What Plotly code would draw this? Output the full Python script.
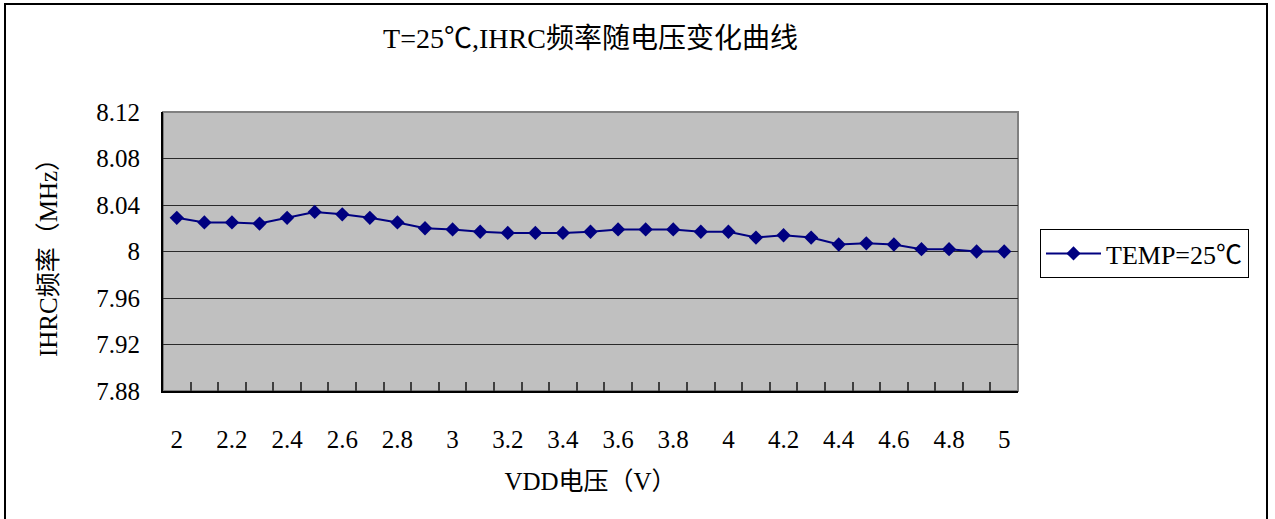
import plotly.graph_objects as go

# Data
vdd = [2.0, 2.1, 2.2, 2.3, 2.4, 2.5, 2.6, 2.7, 2.8, 2.9,
       3.0, 3.1, 3.2, 3.3, 3.4, 3.5, 3.6, 3.7, 3.8, 3.9,
       4.0, 4.1, 4.2, 4.3, 4.4, 4.5, 4.6, 4.7, 4.8, 4.9, 5.0]
freq = [8.029, 8.025, 8.025, 8.024, 8.029, 8.034, 8.032, 8.029, 8.025, 8.020,
        8.019, 8.017, 8.016, 8.016, 8.016, 8.017, 8.019, 8.019, 8.019, 8.017,
        8.017, 8.012, 8.014, 8.012, 8.006, 8.007, 8.006, 8.002, 8.002, 8.000, 8.000]
series_name = "TEMP=25℃"
title_text = "T=25℃,IHRC频率随电压变化曲线"
x_title = "VDD电压（V）"
y_title = "IHRC频率（MHz）"
x_label_vals = [2.0, 2.2, 2.4, 2.6, 2.8, 3.0, 3.2, 3.4, 3.6, 3.8, 4.0, 4.2, 4.4, 4.6, 4.8, 5.0]
x_label_text = ["2", "2.2", "2.4", "2.6", "2.8", "3", "3.2", "3.4", "3.6", "3.8", "4", "4.2", "4.4", "4.6", "4.8", "5"]
x_boundaries = [2.05, 2.15, 2.25, 2.35, 2.45, 2.55, 2.65, 2.75, 2.85, 2.95,
                3.05, 3.15, 3.25, 3.35, 3.45, 3.55, 3.65, 3.75, 3.85, 3.95,
                4.05, 4.15, 4.25, 4.35, 4.45, 4.55, 4.65, 4.75, 4.85, 4.95]
y_tick_vals = [7.88, 7.92, 7.96, 8.00, 8.04, 8.08, 8.12]
y_tick_text = ["7.88", "7.92", "7.96", "8", "8.04", "8.08", "8.12"]

FONT = "'Liberation Serif', 'Noto Sans CJK SC', serif"
NAVY = "#000080"

fig = go.Figure()
fig.add_trace(go.Scatter(
    x=vdd, y=freq, name=series_name, mode="lines+markers",
    line=dict(color=NAVY, width=2),
    marker=dict(symbol="diamond", size=11, color=NAVY),
    showlegend=True,
))
# invisible trace to activate the label axis
fig.add_trace(go.Scatter(x=[vdd[0]], y=[freq[0]], xaxis="x2", mode="markers",
                         marker=dict(opacity=0), showlegend=False, hoverinfo="skip"))

xr = [vdd[0] - 0.05, vdd[-1] + 0.05]
fig.update_layout(
    width=1275, height=519,
    margin=dict(l=163, r=257, t=112, b=128),
    paper_bgcolor="white",
    plot_bgcolor="#C0C0C0",
    font=dict(family=FONT, size=24, color="black"),
    title=dict(text=title_text, x=0.5, xref="paper", xanchor="center",
               y=1 - 38 / 519, yanchor="middle",
               font=dict(family=FONT, size=28, color="black")),
    xaxis=dict(range=xr, tickvals=x_boundaries, showticklabels=False,
               ticks="inside", ticklen=9, tickcolor="#404040", tickwidth=2,
               showgrid=False, zeroline=False, showline=True,
               linecolor="black", linewidth=2),
    xaxis2=dict(range=xr, overlaying="x", side="bottom", tickvals=x_label_vals,
                ticktext=x_label_text, ticks="outside", ticklen=26,
                tickcolor="rgba(0,0,0,0)", showgrid=False, zeroline=False,
                showline=False, tickfont=dict(size=25),
                title=dict(text=x_title, font=dict(size=25), standoff=20)),
    yaxis=dict(range=[7.88, 8.12], tickvals=y_tick_vals, ticktext=y_tick_text,
               ticks="outside", ticklen=16, tickcolor="rgba(0,0,0,0)",
               showgrid=True, gridcolor="#2a2a2a", gridwidth=1,
               zeroline=False, showline=True, linecolor="black", linewidth=2,
               tickfont=dict(size=25),
               title=dict(text=y_title, font=dict(size=25), standoff=32)),
    legend=dict(x=(1040 - 163) / 855, y=(391 - 229) / 279, xanchor="left", yanchor="top",
                bgcolor="white", bordercolor="black", borderwidth=1,
                font=dict(family=FONT, size=26), itemwidth=55),
    shapes=[
        dict(type="rect", xref="paper", yref="paper", x0=0, x1=1, y0=0, y1=1,
             line=dict(color="#808080", width=2), layer="below"),
        dict(type="rect", xref="paper", yref="paper",
             x0=(5 - 163) / 855, x1=(1267 - 163) / 855,
             y0=(391 - 522) / 279, y1=(391 - 4) / 279,
             line=dict(color="black", width=2), layer="below"),
    ],
)

fig.write_html("out.html", config={"displayModeBar": False},
               post_script="document.body.style.margin='0';")
